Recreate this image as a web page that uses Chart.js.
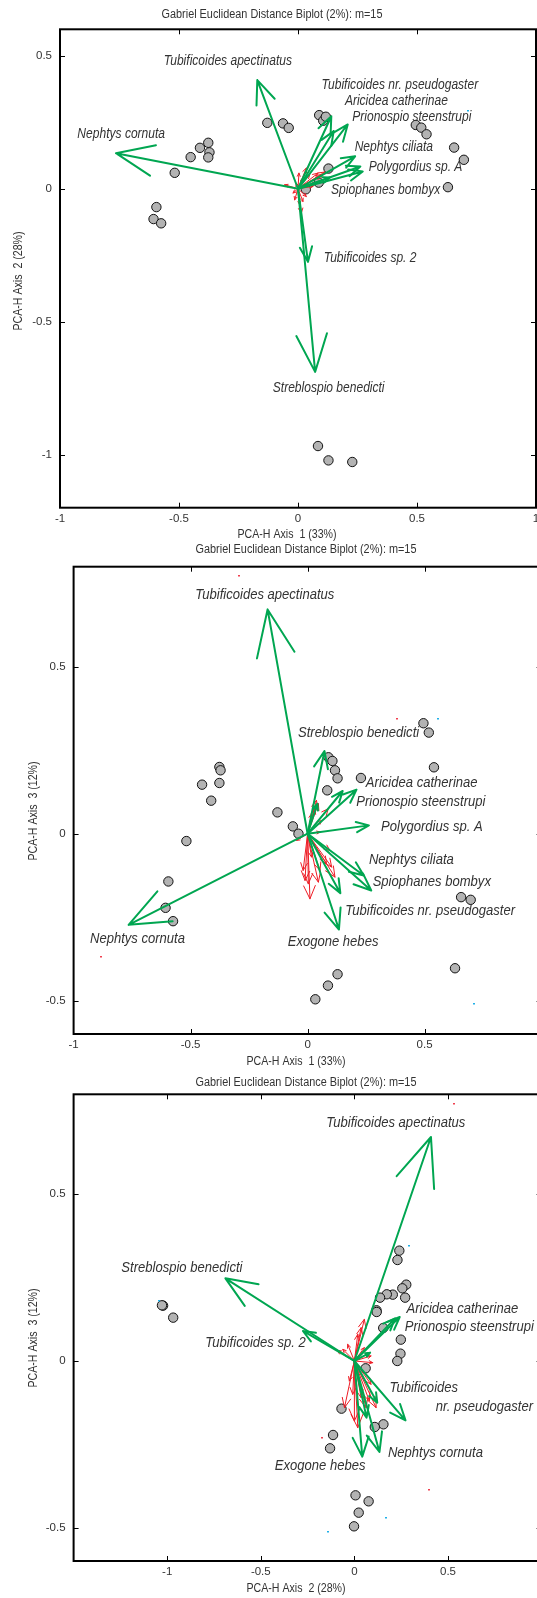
<!DOCTYPE html>
<html>
<head>
<meta charset="utf-8">
<script src="https://cdn.jsdelivr.net/npm/chart.js@4.4.1/dist/chart.umd.min.js"></script>
<style>
  html, body { margin: 0; padding: 0; background: #fff; }
  #page { position: relative; width: 537px; height: 1598px; overflow: hidden; background: #fff; }
  .panel { position: absolute; left: 0; }
  canvas { display: block; }
</style>
</head>
<body>
<div id="page">
  <div class="panel" style="top:0px"><canvas id="c1" width="560" height="545"></canvas></div>
  <div class="panel" style="top:538px"><canvas id="c2" width="560" height="533"></canvas></div>
  <div class="panel" style="top:1068px"><canvas id="c3" width="560" height="530"></canvas></div>
</div>
<script>
// ---- Site scores on the first three PCA-H axes ----
const siteAxis1 = [-0.129, -0.063, -0.039, 0.089, 0.106, 0.117, 0.128, 0.087, 0.033,
                   0.495, 0.518, 0.540, 0.656, 0.697, 0.630,
                   -0.377, -0.412, -0.372, -0.377, -0.451, -0.518, -0.595, -0.607, -0.575,
                   0.084, 0.128, 0.228];
const siteAxis2 = [0.248, 0.246, 0.229, 0.277, 0.256, 0.271, 0.076, 0.023, -0.002,
                   0.240, 0.230, 0.205, 0.155, 0.109, 0.006,
                   0.173, 0.154, 0.137, 0.118, 0.119, 0.060, -0.069, -0.114, -0.130,
                   -0.968, -1.022, -1.028];
const siteAxis3 = [0.064, 0.022, 0.000, 0.229, 0.218, 0.190, -0.421, -0.455, -0.496,
                   0.331, 0.303, 0.199, -0.190, -0.198, -0.403,
                   0.200, 0.099, 0.190, 0.152, 0.147, -0.022, -0.143, -0.222, -0.262,
                   0.130, 0.166, 0.167];

// ---- Species vectors (major contributors) ----
const speciesNames = ['Nephtys cornuta', 'Tubificoides apectinatus', 'Tubificoides nr. pseudogaster',
                      'Aricidea catherinae', 'Prionospio steenstrupi', 'Nephtys ciliata',
                      'Polygordius sp. A', 'Spiophanes bombyx', 'Tubificoides sp. 2',
                      'Streblospio benedicti', 'Exogone hebes'];
const speciesAxis1 = [-0.765, -0.171, 0.140, 0.150, 0.209, 0.240, 0.262, 0.272, 0.042, 0.072, 0.134];
const speciesAxis2 = [0.134, 0.409, 0.273, 0.217, 0.242, 0.122, 0.084, 0.065, -0.275, -0.689, 0.042];
const speciesAxis3 = [-0.273, 0.672, -0.178, 0.128, 0.132, -0.125, 0.025, -0.170, 0.090, 0.248, -0.287];

// ---- Minor species vectors, per biplot ----
const minorP1x = [-0.056, 0.004, 0.035, 0.049, 0.084, 0.098, 0.112, 0.077, 0.063, 0.014, 0.007, -0.014, 0.021, 0.035, -0.021, -0.007, 0.021];
const minorP1y = [0.015, 0.059, 0.078, 0.053, 0.059, 0.053, 0.063, 0.021, 0.009, -0.092, -0.060, -0.042, -0.048, -0.029, -0.016, 0.021, 0.040];
const minorP2x = [0.038, 0.046, 0.031, 0.017, 0.088, 0.060, -0.047, 0.053, -0.011, 0.010, 0.003, 0.046, 0.053, 0.103, 0.117, 0.081, 0.017, -0.019, 0.095];
const minorP2y = [0.100, 0.090, 0.075, 0.060, 0.075, 0.040, -0.020, 0.005, -0.140, -0.195, -0.150, -0.145, -0.110, -0.100, -0.130, -0.090, -0.070, -0.110, -0.050];
const minorP3x = [0.053, 0.036, 0.018, -0.036, -0.062, -0.093, 0.053, 0.098, 0.089, -0.053, 0.000, 0.018, -0.009, 0.062, 0.080, 0.116, 0.089, -0.027, 0.036];
const minorP3y = [0.125, 0.100, 0.080, 0.050, 0.035, 0.032, 0.040, -0.005, 0.015, -0.140, -0.180, -0.200, -0.100, -0.140, -0.120, -0.140, -0.070, -0.060, -0.110];

// ---- Species labels shown on each biplot (anchor = left edge, vertical centre) ----
const labelTextP1 = ['Tubificoides apectinatus', 'Tubificoides nr. pseudogaster', 'Aricidea catherinae',
                     'Prionospio steenstrupi', 'Nephtys cornuta', 'Nephtys ciliata', 'Polygordius sp. A',
                     'Spiophanes bombyx', 'Tubificoides sp. 2', 'Streblospio benedicti'];
const labelXP1 = [-0.564, 0.099, 0.197, 0.228, -0.927, 0.238, 0.297, 0.139, 0.108, -0.106];
const labelYP1 = [0.481, 0.389, 0.329, 0.268, 0.207, 0.155, 0.081, -0.004, -0.262, -0.751];

const labelTextP2 = ['Tubificoides apectinatus', 'Streblospio benedicti', 'Aricidea catherinae',
                     'Prionospio steenstrupi', 'Polygordius sp. A', 'Nephtys ciliata', 'Spiophanes bombyx',
                     'Tubificoides nr. pseudogaster', 'Nephtys cornuta', 'Exogone hebes'];
const labelXP2 = [-0.480, -0.041, 0.249, 0.208, 0.314, 0.262, 0.278, 0.161, -0.930, -0.085];
const labelYP2 = [0.715, 0.302, 0.152, 0.095, 0.020, -0.080, -0.145, -0.232, -0.315, -0.325];

const labelTextP3 = ['Tubificoides apectinatus', 'Streblospio benedicti', 'Aricidea catherinae',
                     'Prionospio steenstrupi', 'Tubificoides sp. 2', 'Tubificoides', 'nr. pseudogaster',
                     'Nephtys cornuta', 'Exogone hebes'];
const labelXP3 = [-0.150, -1.245, 0.278, 0.269, -0.797, 0.187, 0.434, 0.179, -0.425];
const labelYP3 = [0.713, 0.280, 0.155, 0.101, 0.053, -0.080, -0.137, -0.275, -0.314];

// ---- Stray marks ----
const specksP1x = [0.716];  const specksP1y = [0.292];  const specksP1k = ['c'];
const specksP2x = [-0.884, 0.713, -0.292, 0.383, 0.556];
const specksP2y = [-0.370, -0.510, 0.772, 0.345, 0.345];
const specksP2k = ['r', 'c', 'r', 'r', 'c'];
const specksP3x = [0.531, 0.293, -1.044, -0.174, 0.397, 0.170, -0.141];
const specksP3y = [0.771, 0.345, 0.181, -0.232, -0.387, -0.472, -0.512];
const specksP3k = ['r', 'c', 'c', 'r', 'r', 'c', 'c'];

// ---- Axis ticks ----
const xTicksP1 = [-1, -0.5, 0, 0.5, 1];
const yTicksP1 = [-1, -0.5, 0, 0.5];
const xTicksP2 = [-1, -0.5, 0, 0.5, 1];
const yTicksP2 = [-0.5, 0, 0.5];
const xTicksP3 = [-1, -0.5, 0, 0.5, 1];
const yTicksP3 = [-0.5, 0, 0.5];

const chartTitle = 'Gabriel Euclidean Distance Biplot (2%): m=15';

const FONT = '"Liberation Sans", Arial, sans-serif';
const GREEN = '#00a651';
const RED = '#ee1c25';
const TEXT = '#333333';

Chart.defaults.font.family = FONT;
Chart.defaults.color = TEXT;

function arrow(ctx, x0, y0, x1, y1, head, ang) {
  const a = Math.atan2(y1 - y0, x1 - x0);
  ctx.beginPath();
  ctx.moveTo(x0, y0);
  ctx.lineTo(x1, y1);
  ctx.moveTo(x1 - head * Math.cos(a - ang), y1 - head * Math.sin(a - ang));
  ctx.lineTo(x1, y1);
  ctx.lineTo(x1 - head * Math.cos(a + ang), y1 - head * Math.sin(a + ang));
  ctx.stroke();
}

// condensed text: regular face squeezed horizontally
function narrowText(ctx, text, x, y, font, squeeze, align, rotation) {
  ctx.save();
  ctx.font = font;
  ctx.textAlign = align;
  ctx.textBaseline = 'middle';
  ctx.translate(x, y);
  if (rotation) ctx.rotate(rotation);
  ctx.scale(squeeze, 1);
  ctx.fillText(text, 0, 0);
  ctx.restore();
}

// Draws species vectors, labels, the frame with inward ticks and the captions
const biplotDecor = {
  id: 'biplotDecor',
  afterDatasetsDraw(chart, args, o) {
    const ctx = chart.ctx;
    const sx = chart.scales.x, sy = chart.scales.y;
    const X = v => sx.getPixelForValue(v), Y = v => sy.getPixelForValue(v);
    const ox = X(0), oy = Y(0);
    ctx.save();
    ctx.lineCap = 'round';
    ctx.lineJoin = 'round';

    // minor species (red)
    ctx.strokeStyle = RED;
    ctx.lineWidth = 1;
    o.minorX.forEach((vx, i) => {
      const px = X(vx), py = Y(o.minorY[i]);
      const len = Math.hypot(px - ox, py - oy);
      arrow(ctx, ox, oy, px, py, Math.max(3.5, len * 0.22), 0.42);
    });

    // major species (green)
    ctx.strokeStyle = GREEN;
    ctx.lineWidth = 2;
    o.majorX.forEach((vx, i) => {
      const px = X(vx), py = Y(o.majorY[i]);
      const len = Math.hypot(px - ox, py - oy);
      arrow(ctx, ox, oy, px, py, Math.max(5, len * 0.22), 0.39);
    });

    // stray marks
    o.specksX.forEach((vx, i) => {
      ctx.fillStyle = o.specksK[i] === 'r' ? '#f04050' : '#20b0e8';
      ctx.fillRect(Math.round(X(vx)) - 1, Math.round(Y(o.specksY[i])) - 1, 2, 1.5);
    });

    // species labels
    ctx.fillStyle = TEXT;
    o.labelText.forEach((t, i) =>
      narrowText(ctx, t, X(o.labelX[i]), Y(o.labelY[i]), 'italic ' + o.labelSize + 'px ' + FONT,
                 o.labelSqueeze, 'left', 0));
    ctx.restore();
  },
  afterDraw(chart, args, o) {
    const ctx = chart.ctx;
    const a = chart.chartArea;
    const sx = chart.scales.x, sy = chart.scales.y;
    ctx.save();
    // frame
    ctx.strokeStyle = '#000';
    ctx.lineWidth = 2;
    ctx.strokeRect(a.left, a.top, a.right - a.left, a.bottom - a.top);
    // inward ticks
    ctx.lineWidth = 1;
    const tl = 5;
    ctx.beginPath();
    o.xTicks.forEach(v => {
      const p = Math.round(sx.getPixelForValue(v)) + 0.5;
      if (p <= a.left + 2 || p >= a.right - 2) return;
      ctx.moveTo(p, a.bottom); ctx.lineTo(p, a.bottom - tl);
      ctx.moveTo(p, a.top); ctx.lineTo(p, a.top + tl);
    });
    o.yTicks.forEach(v => {
      const p = Math.round(sy.getPixelForValue(v)) + 0.5;
      if (p <= a.top + 2 || p >= a.bottom - 2) return;
      ctx.moveTo(a.left, p); ctx.lineTo(a.left + tl, p);
      ctx.moveTo(a.right, p); ctx.lineTo(a.right - tl, p);
    });
    ctx.stroke();

    // captions
    ctx.fillStyle = TEXT;
    narrowText(ctx, chartTitle, o.titleX, o.titleY, '12.5px ' + FONT, 0.87, 'center', 0);
    narrowText(ctx, o.xTitle, o.xTitleX, o.xTitleY, '12.5px ' + FONT, 0.85, 'center', 0);
    narrowText(ctx, o.yTitle, o.yTitleX, o.yTitleY, '12.5px ' + FONT, 0.85, 'center', -Math.PI / 2);
    ctx.restore();
  }
};

function makeBiplot(id, cfg) {
  const canvas = document.getElementById(id);
  const W = canvas.width, H = canvas.height;
  const pts = cfg.siteX.map((v, i) => ({ x: v, y: cfg.siteY[i] }));
  return new Chart(canvas, {
    type: 'scatter',
    data: {
      datasets: [{
        data: pts,
        pointRadius: 4.7,
        pointHoverRadius: 4.7,
        backgroundColor: '#b3b3b3',
        borderColor: '#111111',
        borderWidth: 1
      }]
    },
    options: {
      responsive: false,
      animation: false,
      devicePixelRatio: 1,
      events: [],
      layout: { padding: { top: cfg.area.top, left: 0, right: W - cfg.area.right, bottom: 0 } },
      plugins: {
        legend: { display: false },
        title: { display: false },
        tooltip: { enabled: false },
        biplotDecor: {
          minorX: cfg.minorX, minorY: cfg.minorY,
          majorX: cfg.majorX, majorY: cfg.majorY,
          specksX: cfg.specksX, specksY: cfg.specksY, specksK: cfg.specksK,
          labelText: cfg.labelText, labelX: cfg.labelX, labelY: cfg.labelY,
          labelSize: cfg.labelSize, labelSqueeze: cfg.labelSqueeze,
          xTicks: cfg.xTicks, yTicks: cfg.yTicks,
          titleX: cfg.titleX, titleY: cfg.titleY,
          xTitle: cfg.xTitle, xTitleX: cfg.xTitleX, xTitleY: cfg.xTitleY,
          yTitle: cfg.yTitle, yTitleX: cfg.yTitleX, yTitleY: cfg.yTitleY
        }
      },
      scales: {
        x: {
          type: 'linear',
          min: cfg.xMin, max: cfg.xMax,
          grid: { display: false, drawTicks: false },
          border: { display: false },
          afterBuildTicks: s => { s.ticks = cfg.xTicks.map(v => ({ value: v })); },
          afterFit: s => { s.height = H - cfg.area.bottom; },
          ticks: { padding: 4, maxRotation: 0, autoSkip: false, color: TEXT,
                   font: { size: 11.5, family: FONT }, callback: v => String(v) }
        },
        y: {
          type: 'linear',
          min: cfg.yMin, max: cfg.yMax,
          grid: { display: false, drawTicks: false },
          border: { display: false },
          afterBuildTicks: s => { s.ticks = cfg.yTicks.map(v => ({ value: v })); },
          afterFit: s => { s.width = cfg.area.left; },
          ticks: { padding: 8, autoSkip: false, color: TEXT,
                   font: { size: 11.5, family: FONT }, callback: v => String(v) }
        }
      }
    },
    plugins: [biplotDecor]
  });
}

makeBiplot('c1', {
  siteX: siteAxis1, siteY: siteAxis2,
  majorX: speciesAxis1, majorY: speciesAxis2,
  minorX: minorP1x, minorY: minorP1y,
  specksX: specksP1x, specksY: specksP1y, specksK: specksP1k,
  labelText: labelTextP1, labelX: labelXP1, labelY: labelYP1,
  labelSize: 14, labelSqueeze: 0.86,
  xTicks: xTicksP1, yTicks: yTicksP1,
  xMin: -1, xMax: 1, yMin: -1.2, yMax: 0.6,
  area: { left: 60, top: 29.3, right: 536, bottom: 507.7 },
  titleX: 272, titleY: 15,
  xTitle: 'PCA-H Axis  1 (33%)', xTitleX: 287, xTitleY: 535,
  yTitle: 'PCA-H Axis  2 (28%)', yTitleX: 18.5, yTitleY: 281
});

makeBiplot('c2', {
  siteX: siteAxis1, siteY: siteAxis3,
  majorX: speciesAxis1, majorY: speciesAxis3,
  minorX: minorP2x, minorY: minorP2y,
  specksX: specksP2x, specksY: specksP2y, specksK: specksP2k,
  labelText: labelTextP2, labelX: labelXP2, labelY: labelYP2,
  labelSize: 14.5, labelSqueeze: 0.9,
  xTicks: xTicksP2, yTicks: yTicksP2,
  xMin: -1, xMax: 1, yMin: -0.6, yMax: 0.8,
  area: { left: 73.6, top: 28.7, right: 541.6, bottom: 496 },
  titleX: 306, titleY: 11.3,
  xTitle: 'PCA-H Axis  1 (33%)', xTitleX: 296, xTitleY: 523.7,
  yTitle: 'PCA-H Axis  3 (12%)', yTitleX: 33.5, yTitleY: 273
});

makeBiplot('c3', {
  siteX: siteAxis2, siteY: siteAxis3,
  majorX: speciesAxis2, majorY: speciesAxis3,
  minorX: minorP3x, minorY: minorP3y,
  specksX: specksP3x, specksY: specksP3y, specksK: specksP3k,
  labelText: labelTextP3, labelX: labelXP3, labelY: labelYP3,
  labelSize: 14.5, labelSqueeze: 0.9,
  xTicks: xTicksP3, yTicks: yTicksP3,
  xMin: -1.5, xMax: 1, yMin: -0.6, yMax: 0.8,
  area: { left: 73.6, top: 26.3, right: 541.6, bottom: 493 },
  titleX: 306, titleY: 14.7,
  xTitle: 'PCA-H Axis  2 (28%)', xTitleX: 296, xTitleY: 521,
  yTitle: 'PCA-H Axis  3 (12%)', yTitleX: 33.5, yTitleY: 270
});
</script>
</body>
</html>
